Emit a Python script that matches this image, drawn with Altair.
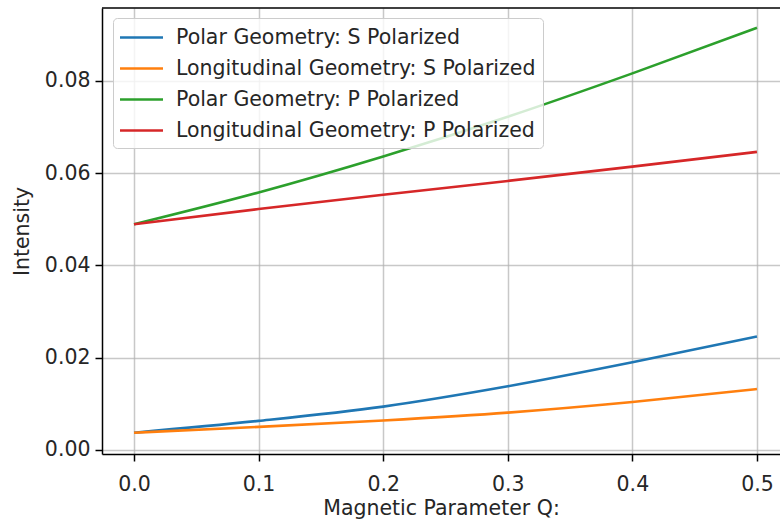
import altair as alt
import pandas as pd

q = [0.0, 0.1, 0.2, 0.3, 0.4, 0.5]
polar_s = [0.00375, 0.0063, 0.0094, 0.0138, 0.0190, 0.0246]
long_s = [0.00375, 0.0050, 0.0064, 0.0081, 0.0104, 0.0132]
polar_p = [0.0489, 0.0558, 0.0636, 0.0722, 0.0816, 0.0915]
long_p = [0.0489, 0.0522, 0.0553, 0.0583, 0.0614, 0.0646]

names = [
    "Polar Geometry: S Polarized",
    "Longitudinal Geometry: S Polarized",
    "Polar Geometry: P Polarized",
    "Longitudinal Geometry: P Polarized",
]
colors = ["#1f77b4", "#ff7f0e", "#2ca02c", "#d62728"]
x_ticks = [0.0, 0.1, 0.2, 0.3, 0.4, 0.5]
y_ticks = [0.0, 0.02, 0.04, 0.06, 0.08]

rows = []
for name, series in zip(names, [polar_s, long_s, polar_p, long_p]):
    for xv, yv in zip(q, series):
        rows.append({"Q": xv, "Intensity": yv, "Series": name})
df = pd.DataFrame(rows)

FONT = "DejaVu Sans"
FS = 20.5
W, H = 678, 446
TXT = "#262626"

axis_common = dict(
    grid=True, gridColor="#b0b0b0", gridWidth=1.5, gridOpacity=0.7,
    domainColor="#000000", domainWidth=1.5,
    tickColor="#000000", tickSize=7, tickWidth=1.5,
    labelFontSize=FS, labelColor=TXT,
    titleFontSize=FS, titleFontWeight="normal", titleColor=TXT,
)

lines = alt.Chart(df).mark_line(strokeWidth=2.6, interpolate="monotone", clip=True).encode(
    x=alt.X("Q:Q",
            scale=alt.Scale(domain=[-0.0257, 0.5185], nice=False, zero=False),
            axis=alt.Axis(values=x_ticks, format=".1f", title="Magnetic Parameter Q:",
                          labelPadding=13, titlePadding=4, **axis_common)),
    y=alt.Y("Intensity:Q",
            scale=alt.Scale(domain=[-0.00087, 0.09577], nice=False, zero=False),
            axis=alt.Axis(values=y_ticks, format=".2f", title="Intensity",
                          labelPadding=5, titlePadding=12, **axis_common)),
    color=alt.Color("Series:N",
                    scale=alt.Scale(domain=names, range=colors),
                    sort=names,
                    legend=alt.Legend(title=None, orient="none", legendX=11, legendY=10,
                                      symbolType="M-2,0H2", symbolSize=462, symbolStrokeWidth=2.6,
                                      symbolOffset=9,
                                      labelFontSize=FS, labelColor=TXT, labelLimit=600,
                                      labelOffset=22, rowPadding=8,
                                      padding=7, fillColor="rgba(255,255,255,0.8)",
                                      strokeColor="#cccccc", cornerRadius=4)),
    order=alt.Order("Series:N"),
)

frame_df = pd.DataFrame({"k": [0]})
top = alt.Chart(frame_df).mark_rule(color="#000000", strokeWidth=1.5).encode(
    x=alt.value(0), x2=alt.value(W), y=alt.value(0)
)

chart = alt.layer(lines, top).properties(
    width=W, height=H,
    autosize=alt.AutoSizeParams(type="none"),
    padding={"left": 102, "top": 8, "right": 0, "bottom": 66},
).configure(font=FONT).configure_view(stroke=None).configure_axis(labelFont=FONT, titleFont=FONT).configure_legend(labelFont=FONT)

chart.save("out.html", embed_options={"renderer": "svg", "actions": False})
